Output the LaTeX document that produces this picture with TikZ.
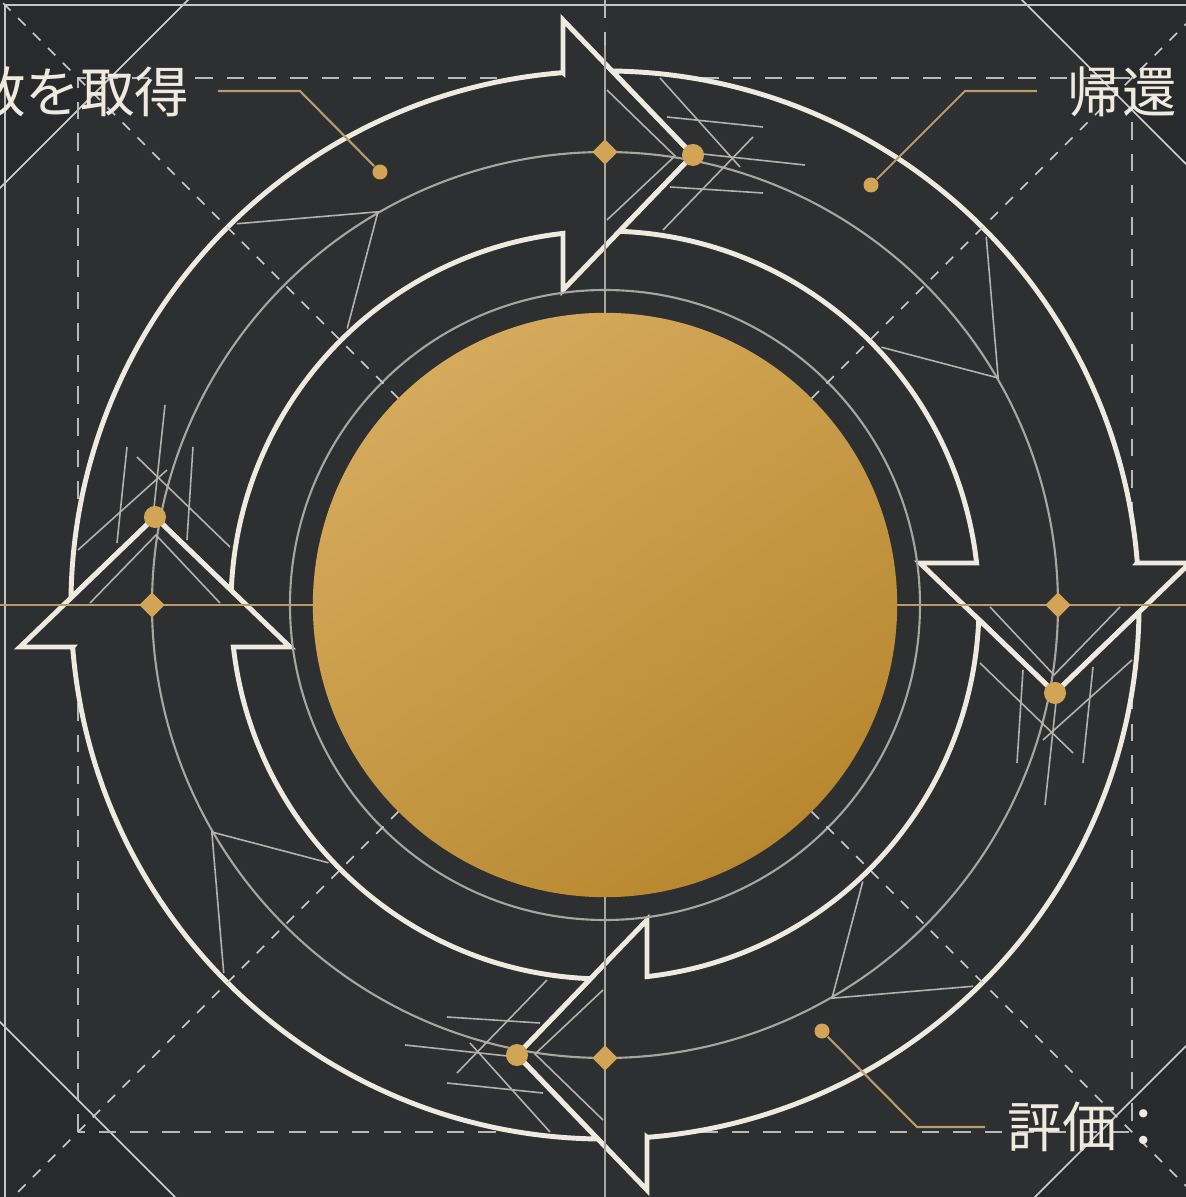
\documentclass[tikz,border=0pt]{standalone}
\usepackage{fontspec}
\newfontfamily\jpfont{Noto Sans CJK JP}
\usetikzlibrary{shapes.geometric}
\definecolor{boardbg}{HTML}{292A2C}
\definecolor{boardmid}{HTML}{2E2F31}
\definecolor{chalk}{HTML}{EEEAE0}
\definecolor{pencil}{HTML}{A8A6A0}
\definecolor{goldtone}{HTML}{D2A556}
\definecolor{goldline}{HTML}{B79D6C}
\definecolor{golddark}{HTML}{B88830}
\definecolor{goldlight}{HTML}{D5AA5C}

\begin{document}
\begin{tikzpicture}[x=0.01cm, y=0.01cm]
  \tikzstyle{arrowband}=[draw=chalk, line width=1.4pt, fill=boardmid]
  \tikzstyle{guide}=[pencil, line width=0.6pt]
  \tikzstyle{sketch}=[pencil!85, line width=0.45pt]
  \tikzstyle{dashline}=[gray!55, line width=0.5pt, dash pattern=on 5pt off 4pt]
  \tikzstyle{fineline}=[gray!40, line width=0.45pt, dash pattern=on 3pt off 3pt]
  \tikzstyle{axisdot}=[diamond, fill=goldtone, minimum size=0.26cm, inner sep=0pt]
  \tikzstyle{tipdot}=[circle, fill=goldtone, minimum size=0.22cm, inner sep=0pt]
  \tikzstyle{notedot}=[circle, fill=goldtone, minimum size=0.15cm, inner sep=0pt]
  \tikzstyle{leader}=[goldline, line width=0.6pt]
  \tikzstyle{caption}=[text=chalk, font=\jpfont\fontsize{15.5}{18}\selectfont, inner sep=0pt]

  \useasboundingbox (-605,-592) rectangle (581,605);
  \clip (-605,-592) rectangle (581,605);

  % Background and frame
  \fill[boardbg] (-605,-592) rectangle (581,605);
  \fill[boardmid] (-1022,0) -- (0,1022) -- (1022,0) -- (0,-1022) -- cycle;
  \draw[gray!35, line width=0.45pt] (-1022,0) -- (0,1022) -- (1022,0) -- (0,-1022) -- cycle;
  \draw[gray!45, line width=0.5pt] (-600,-592) -- (-600,600) -- (581,600);
  \draw[dashline] (-527,-527) rectangle (527,527);
  \draw[dashline] (0,605) -- (0,560);

  % Four arrows of the cycle
  \foreach \k in {0,1,2,3} {
    \begin{scope}[rotate=-90*\k]
      \draw[arrowband] (-42,532.3) -- (-42,585) -- (88,450) -- (-42,315) -- (-42,371.6)
        arc[start angle=96.45, end angle=177.78, radius=374]
        -- (-450,88) -- (-534,7.2)
        arc[start angle=179.23, end angle=94.51, radius=534] -- cycle;
    \end{scope}
  }

  % Guide lines
  \draw[guide] (0,0) circle (453);
  \draw[guide] (0,0) circle (315);
  \foreach \a in {45,135,225,315}
    \draw[fineline] (\a:292) -- (\a:900);
  \draw[guide] (0,292) -- (0,560);
  \draw[guide] (0,-292) -- (0,-592);
  \draw[leader] (-605,0) -- (-292,0);
  \draw[leader] (292,0) -- (581,0);

  % Sketch marks round each head
  \foreach \k in {0,1,2,3} {
    \begin{scope}[rotate=-90*\k]
      \draw[sketch] (2,515) -- (70,449) -- (2,385);
      \draw[sketch] (55,527) -- (135,438);
      \draw[sketch] (58,375) -- (148,468);
      \draw[sketch] (62,488) -- (158,478);
      \draw[sketch] (65,418) -- (158,412);
      \draw[sketch] (88,452) -- (200,440);
      \draw[sketch] (134:530) -- (120:454) -- (133:378);
    \end{scope}
  }

  % Centre disk
  \node[circle, minimum size=5.84cm, inner sep=0pt, top color=goldlight,
        bottom color=golddark, shading angle=35] (hub) at (0,0) {};

  % Dots on the mid circle
  \foreach \k in {0,1,2,3} {
    \begin{scope}[rotate=-90*\k]
      \node[axisdot] (axis\k) at (0,453) {};
      \node[tipdot] (tip\k) at (88,450) {};
    \end{scope}
  }

  % Labels
  \node[caption, anchor=east] (fetch) at (-415,513) {数を取得};
  \node[caption, anchor=west] (back) at (462,513) {帰還};
  \node[caption, anchor=west] (judge) at (402,-522) {評価：};

  % Leader lines
  \node[notedot] (fetch dot) at (-225,433) {};
  \coordinate (fetch bend) at (-305,514);
  \coordinate (fetch end) at (-387,514);
  \draw[leader] (fetch dot) -- (fetch bend) -- (fetch end);

  \node[notedot] (back dot) at (266,420) {};
  \coordinate (back bend) at (360,514);
  \coordinate (back end) at (432,514);
  \draw[leader] (back dot) -- (back bend) -- (back end);

  \node[notedot] (judge dot) at (217,-426) {};
  \coordinate (judge bend) at (312,-522);
  \coordinate (judge end) at (380,-522);
  \draw[leader] (judge dot) -- (judge bend) -- (judge end);
\end{tikzpicture}
\end{document}
